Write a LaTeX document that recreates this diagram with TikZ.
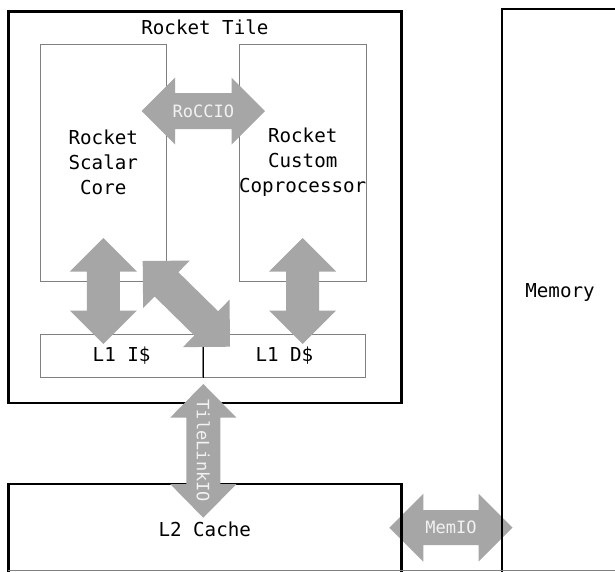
\documentclass[tikz,border=0pt]{standalone}
\usepackage{fontspec}
\setmonofont{DejaVu Sans Mono}
\usetikzlibrary{calc}
\definecolor{arrowgray}{HTML}{A6A6A6}
\definecolor{boxgray}{HTML}{808080}
\definecolor{labelwhite}{HTML}{F2F2F2}
% block double arrow between two named points: #1 from, #2 to, #3 shaft half width, #4 head half width, #5 head length
\newcommand\blockarrow[5]{%
  \fill[arrowgray] (#1)
    -- ($(#1)!#5!(#2)!#4!90:(#2)$)
    -- ($(#1)!#5!(#2)!#3!90:(#2)$)
    -- ($(#2)!#5!(#1)!#3!-90:(#1)$)
    -- ($(#2)!#5!(#1)!#4!-90:(#1)$)
    -- (#2)
    -- ($(#2)!#5!(#1)!#4!90:(#1)$)
    -- ($(#2)!#5!(#1)!#3!90:(#1)$)
    -- ($(#1)!#5!(#2)!#3!-90:(#2)$)
    -- ($(#1)!#5!(#2)!#4!-90:(#2)$)
    -- cycle;}
\begin{document}
\begin{tikzpicture}[x=1pt,y=-1pt,
  thickbox/.style={draw=black, line width=2.8pt, rectangle, inner sep=0pt, font=\ttfamily\fontsize{19.2}{25}\selectfont, text=black},
  thinbox/.style={draw=boxgray, line width=1pt, rectangle, inner sep=0pt, align=center, font=\ttfamily\fontsize{19.2}{25}\selectfont, text=black},
  plainlabel/.style={inner sep=0pt, font=\ttfamily\fontsize{19.2}{25}\selectfont, text=black},
  arrowlabel/.style={inner sep=0pt, font=\ttfamily\fontsize{17}{20}\selectfont, text=labelwhite}]
\useasboundingbox (0,0) rectangle (615,571);
\fill[white] (0,0) rectangle (615,571);

% MemIO arrow (drawn under the box borders)
\coordinate (mA) at (389.4,527.7);
\coordinate (mB) at (512.5,527.7);
\blockarrow{mA}{mB}{17.5pt}{34pt}{34pt}
\node[arrowlabel] (memio) at ($(mA)!0.5!(mB)$) {MemIO};

% boxes
\node[thickbox, minimum width=393.2pt, minimum height=391.5pt] (tile) at (204.9,207.25) {};
\node[plainlabel] (tiletitle) at (204.9,27) {Rocket Tile};
\node[thinbox, minimum width=126pt, minimum height=237pt] (core) at (103.3,162.5) {Rocket\\Scalar\\Core};
\node[thinbox, minimum width=126pt, minimum height=237pt] (coproc) at (302.7,162.5) {Rocket\\Custom\\Coprocessor};
\node[thinbox, minimum width=163pt, minimum height=42.5pt] (l1i) at (121.6,356) {L1 I\$};
\node[thinbox, minimum width=163pt, minimum height=42.5pt] (l1d) at (284.4,356) {L1 D\$};
\draw[black, line width=1pt] (l1i.north east) -- (l1i.south east);
\node[thickbox, minimum width=392.9pt, minimum height=90pt] (l2) at (204.75,529) {L2 Cache};
\node[thickbox, minimum width=116pt, minimum height=566pt] (mem) at (560,292) {Memory};
\draw[boxgray, line width=1pt] (8,570.5) -- (615,570.5);

% arrows
\coordinate (rA) at (141.7,111);
\coordinate (rB) at (265,111);
\blockarrow{rA}{rB}{18pt}{33.5pt}{33.5pt}
\node[arrowlabel] (roccio) at ($(rA)!0.5!(rB)$) {RoCCIO};

\coordinate (iA) at (103.3,238);
\coordinate (iB) at (103.3,344);
\blockarrow{iA}{iB}{16.5pt}{33.5pt}{33.5pt}

\coordinate (dA) at (302.7,238);
\coordinate (dB) at (302.7,344);
\blockarrow{dA}{dB}{16.5pt}{33.5pt}{33.5pt}

\coordinate (xA) at (142.7,261);
\coordinate (xB) at (230,346.7);
\blockarrow{xA}{xB}{17pt}{33.3pt}{33.3pt}

\coordinate (tA) at (203.3,384);
\coordinate (tB) at (203.3,517.7);
\blockarrow{tA}{tB}{17pt}{33pt}{33.5pt}
\node[arrowlabel, rotate=-90] (tilelink) at ($(tA)!0.5!(tB)$) {TileLinkIO};
\end{tikzpicture}
\end{document}
